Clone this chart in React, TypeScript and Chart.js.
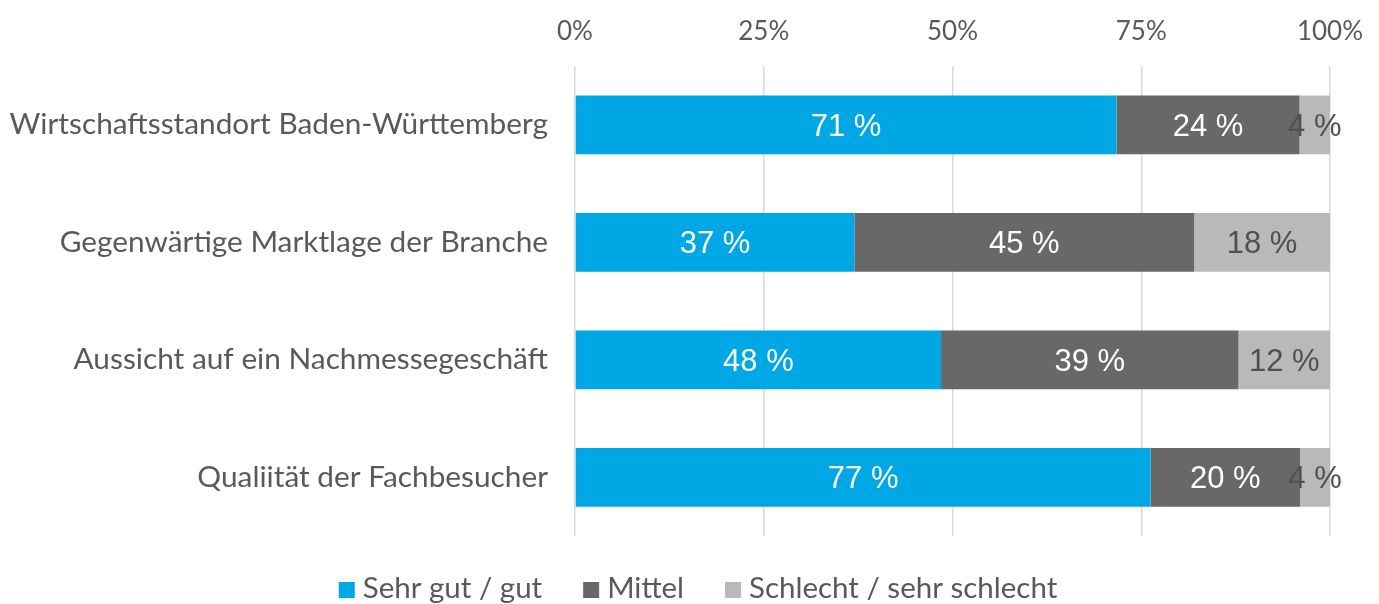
import React, { useEffect, useRef } from "react";
import { Chart, registerables } from "chart.js";

Chart.register(...registerables);

const categories = [
  "Wirtschaftsstandort Baden-Württemberg",
  "Gegenwärtige Marktlage der Branche",
  "Aussicht auf ein Nachmessegeschäft",
  "Qualiität der Fachbesucher",
];
const seriesNames = ["Sehr gut / gut", "Mittel", "Schlecht / sehr schlecht"];
const sehrGut = [71, 37, 48, 77];
const mittel = [24, 45, 39, 20];
const schlecht = [4, 18, 12, 4];
const xTicks = [0, 25, 50, 75, 100];

const seriesColors = ["#00A7E5", "#686868", "#B9B9B9"];
const labelColors = ["#FFFFFF", "#FFFFFF", "#505050"];
const textColor = "#595959";
const mainFont = "Lato, 'Open Sans', sans-serif";
const labelFont = "'Liberation Sans', Arial, sans-serif";

const rawSeries = [sehrGut, mittel, schlecht];
const totals = categories.map((_, i) => rawSeries.reduce((s, arr) => s + arr[i], 0));

const dataLabelPlugin = {
  id: "dataLabels",
  afterDatasetsDraw(chart: any) {
    const ctx = chart.ctx;
    const fs = 31;
    ctx.save();
    ctx.font = `${fs}px ${labelFont}`;
    ctx.textAlign = "center";
    ctx.textBaseline = "alphabetic";
    chart.data.datasets.forEach((ds: any, di: number) => {
      const meta = chart.getDatasetMeta(di);
      meta.data.forEach((bar: any, j: number) => {
        const p = bar.getProps(["x", "y", "base"], true);
        const cx = (p.x + p.base) / 2;
        ctx.fillStyle = labelColors[di];
        ctx.fillText(`${ds.raw[j]} %`, cx, p.y + fs * 0.358);
      });
    });
    ctx.restore();
  },
};

const legendPlugin = {
  id: "customLegend",
  afterDraw(chart: any) {
    const ctx = chart.ctx;
    const fs = 29.5;
    const box = 16;
    const gapBox = 8;
    const gapItem = 41;
    const baseline = 598;
    const centerX = 698;
    ctx.save();
    ctx.font = `${fs}px ${mainFont}`;
    ctx.textBaseline = "alphabetic";
    ctx.textAlign = "left";
    const widths = chart.data.datasets.map((ds: any) => ctx.measureText(ds.label).width);
    const total =
      widths.reduce((s: number, w: number) => s + w + box + gapBox, 0) + gapItem * (widths.length - 1);
    let x = centerX - total / 2;
    chart.data.datasets.forEach((ds: any, i: number) => {
      ctx.fillStyle = ds.backgroundColor;
      ctx.fillRect(x, baseline - box, box, box);
      x += box + gapBox;
      ctx.fillStyle = textColor;
      ctx.fillText(ds.label, x, baseline);
      x += widths[i] + gapItem;
    });
    ctx.restore();
  },
};

export default function App() {
  const ref = useRef<HTMLCanvasElement | null>(null);

  useEffect(() => {
    document.body.style.margin = "0";
    if (!ref.current) return;
    const chart = new Chart(ref.current, {
      type: "bar",
      data: {
        labels: categories,
        datasets: rawSeries.map((arr, i) => ({
          label: seriesNames[i],
          data: arr.map((v, j) => (v / totals[j]) * 100),
          raw: arr,
          backgroundColor: seriesColors[i],
          borderWidth: 0,
          barPercentage: 0.5,
          categoryPercentage: 1,
        })) as any,
      },
      options: {
        indexAxis: "y",
        animation: false,
        responsive: false,
        maintainAspectRatio: false,
        layout: { padding: { top: 0, right: 49, bottom: 68, left: 0 } },
        plugins: {
          legend: { display: false },
          tooltip: { enabled: false },
        },
        scales: {
          x: {
            position: "top",
            stacked: true,
            min: 0,
            max: 100,
            afterBuildTicks: (scale: any) => {
              scale.ticks = xTicks.map((v) => ({ value: v }));
            },
            afterFit: (scale: any) => {
              scale.height = 66;
              scale.paddingLeft = 0;
              scale.paddingRight = 0;
            },
            ticks: {
              callback: (v: any) => `${v}%`,
              color: textColor,
              font: { family: mainFont, size: 26 },
              padding: 19,
              maxRotation: 0,
            },
            grid: { color: "#D9D9D9", lineWidth: 1.5, drawTicks: false },
            border: { display: false },
          },
          y: {
            stacked: true,
            afterFit: (scale: any) => {
              scale.width = 575;
            },
            ticks: {
              color: textColor,
              font: { family: mainFont, size: 29.8 },
              padding: 27,
            },
            grid: { display: false, drawTicks: false },
            border: { display: false },
          },
        },
      },
      plugins: [dataLabelPlugin, legendPlugin],
    } as any);
    return () => chart.destroy();
  }, []);

  return (
    <div style={{ width: 1379, height: 604 }}>
      <canvas ref={ref} width={1379} height={604} style={{ display: "block" }} />
    </div>
  );
}
